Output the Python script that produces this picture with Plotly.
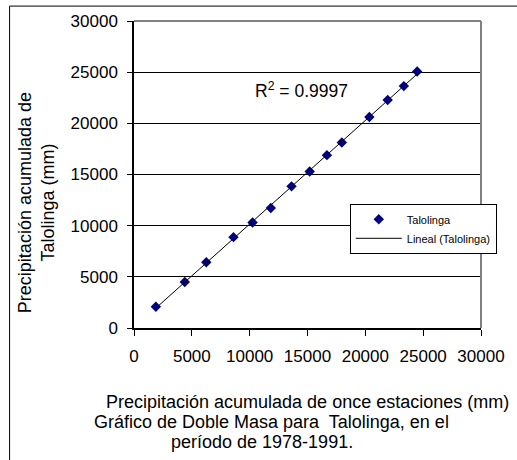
import numpy as np
import plotly.graph_objects as go

# Data (cumulative precipitation, mm), 1978-1991
x_once = [1890, 4390, 6250, 8600, 10250, 11830, 13620, 15190, 16680, 17970, 20350, 21930, 23330, 24480]
y_talolinga = [2070, 4500, 6420, 8880, 10310, 11730, 13840, 15300, 16890, 18120, 20620, 22280, 23640, 25060]
tick_vals = [0, 5000, 10000, 15000, 20000, 25000, 30000]
tick_text = ["0", "5000", "10000", "15000", "20000", "25000", "30000"]

W, H = 517, 460
ML, MR, MT, MB = 134, 26, 19, 132
PW, PH = W - ML - MR, H - MT - MB

def px(xp):
    return (xp - ML) / PW

def py(yp):
    return (H - MB - yp) / PH

FONT = "Liberation Sans, Arial, sans-serif"

slope, intercept = np.polyfit(x_once, y_talolinga, 1)
xl = np.array([min(x_once), max(x_once)])
yl = slope * xl + intercept

fig = go.Figure()
fig.add_trace(go.Scatter(
    x=x_once, y=y_talolinga, mode="markers", name="Talolinga",
    marker=dict(symbol="diamond", size=8, color="#000080"),
))
fig.add_trace(go.Scatter(
    x=xl, y=yl, mode="lines", name="Lineal (Talolinga)",
    line=dict(color="black", width=1),
))

fig.update_layout(
    width=W, height=H,
    margin=dict(l=ML, r=MR, t=MT, b=MB),
    paper_bgcolor="white", plot_bgcolor="white",
    font=dict(family=FONT, size=17, color="black"),
    showlegend=True,
    legend=dict(
        x=px(356), y=py(203), xanchor="left", yanchor="top",
        bgcolor="white", bordercolor="black", borderwidth=1,
        font=dict(family=FONT, size=11, color="black"),
        itemwidth=46, tracegroupgap=0,
    ),
    xaxis=dict(
        range=[0, 30000], tickvals=tick_vals, ticktext=tick_text,
        showgrid=False, zeroline=False,
        showline=True, linecolor="black", linewidth=1.5,
        ticks="outside", ticklen=6, tickcolor="black", tickwidth=1,
        ticklabelstandoff=6,
        tickfont=dict(family=FONT, size=17, color="black"),
    ),
    yaxis=dict(
        range=[0, 30000], tickvals=tick_vals, ticktext=tick_text,
        showgrid=True, gridcolor="black", gridwidth=1,
        zeroline=False,
        showline=True, linecolor="black", linewidth=1.5,
        ticks="outside", ticklen=5, tickcolor="black", tickwidth=1,
        ticklabelstandoff=6,
        tickfont=dict(family=FONT, size=17, color="black"),
    ),
)

# plot-area border (top and right, grey)
fig.add_shape(type="line", xref="paper", yref="paper", x0=0, x1=1, y0=1, y1=1,
              line=dict(color="#808080", width=2))
fig.add_shape(type="line", xref="paper", yref="paper", x0=1, x1=1, y0=0, y1=1,
              line=dict(color="#808080", width=2))
# outer chart frame (left and top)
fig.add_shape(type="line", xref="paper", yref="paper", x0=px(6), x1=px(6), y0=py(470), y1=py(4),
              line=dict(color="black", width=1))
fig.add_shape(type="line", xref="paper", yref="paper", x0=px(6), x1=px(530), y0=py(4), y1=py(4),
              line=dict(color="black", width=1))

ann = [
    ("R<sup>2</sup> = 0.9997", 306, 88, 0, 17.5),
    ("Precipitación acumulada de once estaciones (mm)", 313, 402, 0, 18),
    ("Gráfico de Doble Masa para  Talolinga, en el", 275, 423, 0, 18),
    ("período de 1978-1991.", 266, 443, 0, 18),
    ("Precipitación acumulada de<br>Talolinga (mm)", 33, 201.5, -90, 18),
]
for text, ax_, ay_, ang, fs in ann:
    fig.add_annotation(text=text, xref="paper", yref="paper", x=px(ax_), y=py(ay_),
                       xanchor="center", yanchor="middle", showarrow=False, textangle=ang,
                       font=dict(family=FONT, size=fs, color="black"))

fig.write_html("out.html", config={"displayModeBar": False},
               post_script="document.body.style.margin='0';document.body.style.padding='0';")
